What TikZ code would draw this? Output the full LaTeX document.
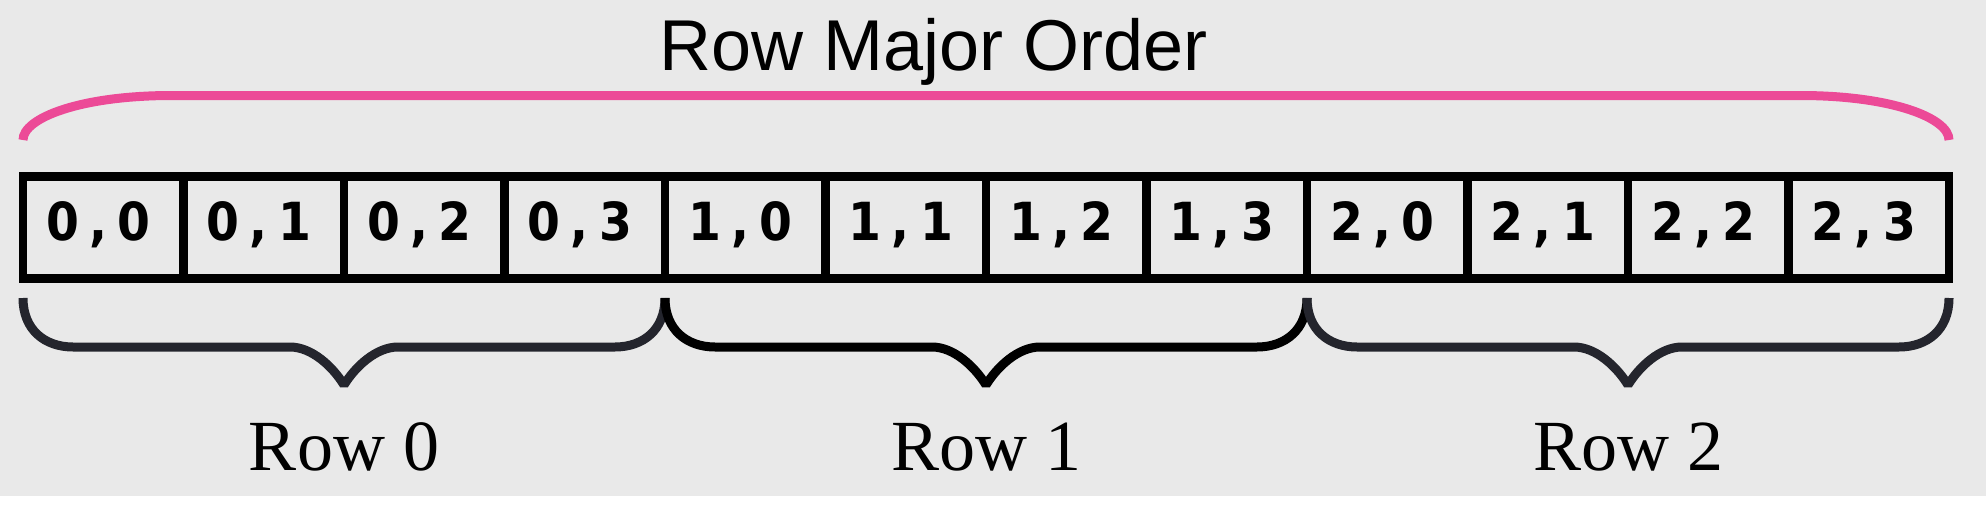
\documentclass[tikz,border=0pt]{standalone}
\usepackage{fontspec}
\setmainfont{Liberation Serif}
\newfontfamily\titlefont{Liberation Sans}
\newfontfamily\digitfont{DejaVu Sans Condensed}
\definecolor{bggray}{HTML}{E9E9E9}
\definecolor{bracepink}{HTML}{EC4A97}
\definecolor{braceink}{HTML}{24252D}
% row and column index, each character in a fixed slot
\newcommand\pairtext[2]{\makebox[35.8pt]{#1}\makebox[35.8pt]{,}\makebox[35.8pt]{#2}}

\begin{document}
\begin{tikzpicture}[x=1pt, y=-1pt,
    cellbox/.style={draw=black, line width=8.7pt},
    celltext/.style={anchor=base, inner sep=0pt, font=\digitfont\bfseries\fontsize{52.5}{52.5}\selectfont},
    rowtext/.style={anchor=base, inner sep=0pt, font=\fontsize{72}{72}\selectfont},
    bracepath/.style={line width=9pt, line join=bevel}]
\useasboundingbox (0,0) rectangle (1986,506);
\fill[bggray] (0,0) rectangle (1986,496);
\fill[white] (0,496) rectangle (1986,506);

\node[anchor=base, inner sep=0pt, font=\titlefont\fontsize{72}{72}\selectfont] (title) at (934,70) {Row Major Order};

% pink brace over the whole array
\draw[bracepink, line width=9pt] (23,140) .. controls (23,118) and (80,95.5) .. (172,95.5) -- (1800,95.5) .. controls (1892,95.5) and (1949,118) .. (1949,140);

% the twelve cells
\foreach \r in {0,1,2}
\foreach \c in {0,1,2,3}
{
    \pgfmathsetmacro\cellx{23+160.5*(4*\r+\c)}
    \draw[cellbox] (\cellx,176.5) rectangle ++(160.5,102);
    \node[celltext] (cell\r\c) at (\cellx+75.3,240) {\pairtext{\r}{\c}};
}

% one brace per row
\foreach \r/\ink in {0/braceink,1/black,2/braceink}
{
    \pgfmathsetmacro\braceL{23+642*\r}
    \pgfmathsetmacro\braceM{\braceL+321}
    \pgfmathsetmacro\braceR{\braceL+642}
    \draw[bracepath, color=\ink] (\braceL,298) .. controls (\braceL,330) and (\braceL+22,347) .. (\braceL+50,347) -- (\braceM-54,347) .. controls (\braceM-32,347) and (\braceM-11,367) .. (\braceM,385) .. controls (\braceM+11,367) and (\braceM+32,347) .. (\braceM+54,347) -- (\braceR-50,347) .. controls (\braceR-22,347) and (\braceR,330) .. (\braceR,298);
    \node[rowtext] (row\r) at (\braceM,470) {Row \r};
}

\end{tikzpicture}
\end{document}
